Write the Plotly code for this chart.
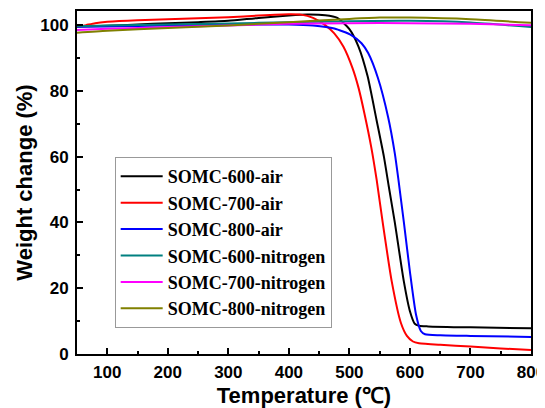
import plotly.graph_objects as go

# ---- data ----
names = ["SOMC-600-air", "SOMC-700-air", "SOMC-800-air",
         "SOMC-600-nitrogen", "SOMC-700-nitrogen", "SOMC-800-nitrogen"]
colors = ["#000000", "#FF0000", "#0000FF", "#008080", "#FF00FF", "#808000"]

t_600_air = [50, 100, 150, 200, 250, 300, 350, 400, 430, 460, 480, 500, 515, 530, 545, 557, 565, 575, 590, 600, 608, 615, 630, 700, 800]
w_600_air = [99.6, 99.8, 100.2, 100.6, 100.9, 101.3, 102.2, 102.9, 103.2, 103.0, 102.2, 98.8, 93.5, 84.5, 71, 60, 51, 40, 22, 13, 9.2, 8.6, 8.4, 8.1, 7.8]

t_700_air = [50, 65, 80, 100, 150, 200, 250, 300, 350, 400, 420, 440, 460, 475, 490, 505, 515, 525, 536, 545, 555, 570, 585, 595, 605, 615, 650, 700, 750, 800]
w_700_air = [99.4, 100, 100.6, 101, 101.5, 101.8, 102.1, 102.4, 102.9, 103.3, 103.2, 102.2, 100, 97.5, 93.5, 87, 81, 73, 63, 53, 40, 22, 9.5, 5.5, 3.8, 3.3, 2.8, 2.3, 1.7, 1.2]

t_800_air = [50, 100, 200, 300, 400, 440, 475, 503, 520, 531, 547, 564, 575, 581, 590, 600, 610, 618, 625, 650, 700, 800]
w_800_air = [99.5, 99.6, 99.9, 100.1, 100.2, 99.9, 99, 97, 94.5, 91.5, 84, 72, 61, 53, 40, 25, 12, 7, 6, 5.7, 5.5, 5.2]

t_600_n2 = [50, 100, 200, 300, 400, 500, 600, 700, 800]
w_600_n2 = [99.7, 99.9, 100.2, 100.5, 100.9, 101.2, 101.3, 100.8, 99.4]

t_700_n2 = [50, 100, 200, 300, 400, 500, 600, 700, 800]
w_700_n2 = [98.5, 98.9, 99.4, 99.9, 100.4, 100.6, 100.6, 100.4, 100.0]

t_800_n2 = [50, 100, 200, 300, 400, 500, 550, 600, 700, 800]
w_800_n2 = [97.7, 98.3, 99.1, 99.9, 100.9, 101.9, 102.3, 102.3, 101.8, 100.7]

x_ticks = [100, 200, 300, 400, 500, 600, 700, 800]
y_ticks = [0, 20, 40, 60, 80, 100]

series = [(t_600_air, w_600_air), (t_700_air, w_700_air), (t_800_air, w_800_air),
          (t_600_n2, w_600_n2), (t_700_n2, w_700_n2), (t_800_n2, w_800_n2)]

fig = go.Figure()
for name, color, (t, w) in zip(names, colors, series):
    fig.add_trace(go.Scatter(x=t, y=w, mode="lines", name=name,
                             line=dict(color=color, width=2, shape="spline", smoothing=0.6)))

sans = "Liberation Sans, Arial, sans-serif"
serif = "Liberation Serif, Times New Roman, serif"

# the page body adds an 8px offset, so the figure is sized to fill the rest of the window
fig.update_layout(
    template="none",
    width=537, height=400,
    margin=dict(l=69, r=14, t=3, b=54, autoexpand=False),
    paper_bgcolor="white", plot_bgcolor="white",
    showlegend=True,
    legend=dict(x=0.083, y=0.574, xanchor="left", yanchor="top",
                bordercolor="#999999", borderwidth=1, bgcolor="white",
                font=dict(family=serif, size=18, color="black", weight="bold"),
                itemwidth=42, tracegroupgap=0),
    xaxis=dict(range=[50, 800], tickvals=x_ticks, ticks="inside", ticklen=6, tickwidth=2,
               tickcolor="black", showline=True, linecolor="black", linewidth=2, mirror=True,
               showgrid=False, zeroline=False, automargin=False, ticklabelstandoff=2,
               ticklabeloverflow="allow",
               minor=dict(dtick=50, ticks="inside", ticklen=3, tickwidth=2, tickcolor="black"),
               tickfont=dict(family=sans, size=17, color="black", weight="bold"),
               title=dict(text="Temperature (℃)", font=dict(family=sans, size=22, color="black", weight="bold"),
                          standoff=8)),
    yaxis=dict(range=[0, 104.3], tickvals=y_ticks, ticks="inside", ticklen=6, tickwidth=2,
               tickcolor="black", showline=True, linecolor="black", linewidth=2, mirror=True,
               showgrid=False, zeroline=False, automargin=False, ticklabelstandoff=3,
               ticklabeloverflow="allow",
               minor=dict(dtick=10, ticks="inside", ticklen=3, tickwidth=2, tickcolor="black"),
               tickfont=dict(family=sans, size=17, color="black", weight="bold"),
               title=dict(text="Weight change (%)", font=dict(family=sans, size=22, color="black", weight="bold"),
                          standoff=2)),
)

fig.write_html("out.html")
